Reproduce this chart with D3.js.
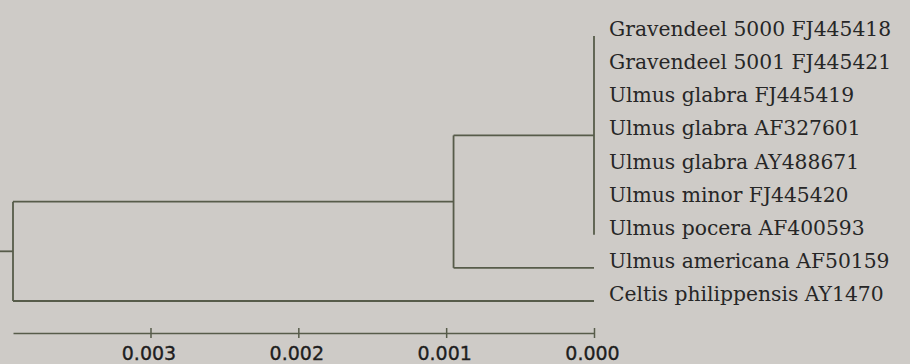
<!DOCTYPE html>
<html>
<head>
<meta charset="utf-8">
<script src="https://cdn.jsdelivr.net/npm/d3@7/dist/d3.min.js"></script>
<style>
  html, body { margin: 0; padding: 0; background: #cecbc7; }
  svg { display: block; }
</style>
</head>
<body>
<svg id="chart" width="910" height="364"></svg>
<script>
// ---- data ----
const leafLabels = [
  "Gravendeel 5000 FJ445418",
  "Gravendeel 5001 FJ445421",
  "Ulmus glabra FJ445419",
  "Ulmus glabra AF327601",
  "Ulmus glabra AY488671",
  "Ulmus minor FJ445420",
  "Ulmus pocera AF400593",
  "Ulmus americana AF50159",
  "Celtis philippensis AY1470"
];
// node heights (distance from tips)
const rootHeight = 0.00393;
const ulmusNodeHeight = 0.00095;
const glabraGroupHeight = 0;
const leafHeight = 0;
const axisTicks = [0.003, 0.002, 0.001, 0.000];

// ---- tree structure ----
const treeData = {
  name: "root", h: rootHeight, children: [
    { name: "ulmus", h: ulmusNodeHeight, children: [
      { name: "group", h: glabraGroupHeight,
        children: leafLabels.slice(0, 7).map(n => ({ name: n, h: leafHeight, leaf: true })) },
      { name: leafLabels[7], h: leafHeight, leaf: true }
    ]},
    { name: leafLabels[8], h: leafHeight, leaf: true }
  ]
};

const lineColor = "#575c4a";
const textColor = "#262626";
const svg = d3.select("#chart");

const x = d3.scaleLinear().domain([rootHeight, 0]).range([13, 594]);
const yLeaf = d3.scalePoint().domain(leafLabels).range([36, 301]);

const root = d3.hierarchy(treeData);
root.eachAfter(d => {
  if (!d.children) d.y = yLeaf(d.data.name);
  else d.y = (d.children[0].y + d.children[d.children.length - 1].y) / 2;
  d.x = x(d.data.h);
});

const g = svg.append("g")
  .attr("stroke", lineColor)
  .attr("stroke-width", 1.8)
  .attr("fill", "none");

// root stub
g.append("line")
  .attr("x1", 0).attr("x2", root.x)
  .attr("y1", root.y).attr("y2", root.y);

root.descendants().forEach(d => {
  if (d.children) {
    g.append("line")
      .attr("x1", d.x).attr("x2", d.x)
      .attr("y1", d.children[0].y).attr("y2", d.children[d.children.length - 1].y);
    d.children.forEach(c => {
      if (c.x !== d.x) {
        g.append("line")
          .attr("x1", d.x).attr("x2", c.x)
          .attr("y1", c.y).attr("y2", c.y);
      }
    });
  }
});

// leaf labels
svg.append("g").selectAll("text")
  .data(root.leaves())
  .join("text")
  .attr("x", d => d.x + 15)
  .attr("y", d => d.y)
  .attr("fill", textColor)
  .attr("font-family", "'DejaVu Serif', serif")
  .attr("font-size", 20.3)
  .text(d => d.data.name);

// scale axis
const axisY = 333;
const axis = d3.axisBottom(x)
  .tickValues(axisTicks)
  .tickFormat(d3.format(".3f"))
  .tickSizeOuter(0)
  .tickSizeInner(4);

const ag = svg.append("g")
  .attr("transform", `translate(0,${axisY})`)
  .call(axis);
ag.select(".domain").attr("stroke", lineColor).attr("stroke-width", 1.5);
ag.selectAll(".tick line")
  .attr("y1", -5).attr("y2", 5)
  .attr("stroke", lineColor).attr("stroke-width", 1.5);
ag.selectAll(".tick text")
  .attr("y", 27).attr("dy", 0)
  .attr("dx", -2)
  .attr("fill", "#1e1e1e")
  .attr("font-family", "'DejaVu Sans', sans-serif")
  .attr("font-size", 19)
  .attr("stroke", "#1e1e1e")
  .attr("stroke-width", 0.35);
</script>
</body>
</html>
